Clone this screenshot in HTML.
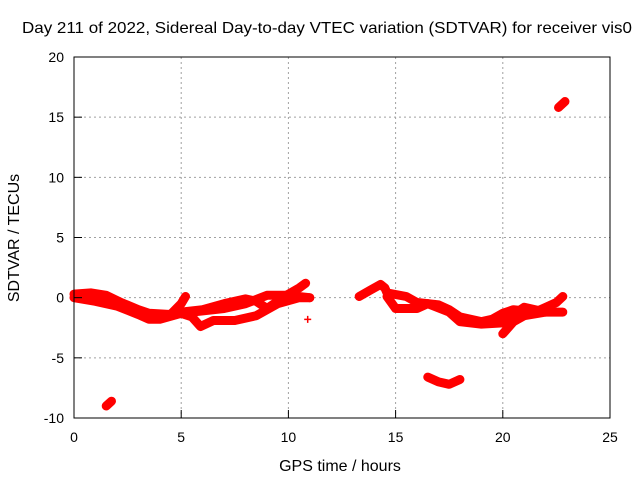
<!DOCTYPE html>
<html><head><meta charset="utf-8"><style>
body{margin:0;background:#fff;}
svg{display:block;font-family:"Liberation Sans",sans-serif;}
</style></head><body>
<svg id="chart" width="640" height="480">
<text x="327" y="33" text-anchor="middle" font-size="16" textLength="610" lengthAdjust="spacingAndGlyphs">Day 211 of 2022, Sidereal Day-to-day VTEC variation (SDTVAR) for receiver vis0</text>
<g id="grid"></g>
<g id="series"></g>
<rect x="74" y="57" width="536" height="361" fill="none" stroke="#000" stroke-width="1"/>
<g id="axes"></g>
<text x="340" y="471" text-anchor="middle" font-size="16">GPS time / hours</text>
<text transform="translate(19,238) rotate(-90)" text-anchor="middle" font-size="16">SDTVAR / TECUs</text>
</svg>
<script>
const xTicks=[0,5,10,15,20,25];
const yTicks=[-10,-5,0,5,10,15,20];
const traceA=[[0,0.3],[0.8,0.4],[1.5,0.2],[2.2,-0.4],[3,-1.0],[3.5,-1.3],[4.5,-1.4],[5.0,-0.5],[5.2,0.1]];
const traceB=[[0,0],[1,-0.3],[2,-0.7],[3,-1.4],[3.5,-1.8],[4,-1.8],[5,-1.3],[5.5,-1.6],[5.9,-2.4],[6.5,-1.9],[7.5,-1.9],[8.5,-1.5],[9.5,-0.5],[10.5,0],[11,0]];
const traceC=[[5,-1.2],[6,-1.0],[7,-0.5],[8,-0.1],[8.5,-0.3],[9,-0.9],[9.5,-0.3],[10,0.3],[10.5,0.8],[10.8,1.2]];
const traceD=[[5,-1.3],[7,-0.9],[8,-0.5],[9,0.2],[10,0.2],[11,0.0]];
const traceE=[[13.3,0.1],[13.8,0.6],[14.3,1.1],[14.5,0.8],[14.6,0.4],[15.5,0.1],[16,-0.4],[17,-0.6],[17.5,-1],[18,-1.6],[18.5,-1.8],[19,-2],[19.5,-1.8],[20,-1.3],[20.5,-1.0],[21.5,-1.2],[22,-0.8],[22.5,-0.4],[22.8,0.1]];
const traceF=[[14.6,0.1],[15,-0.9],[16,-0.9],[16.5,-0.5],[17.5,-1.2],[18,-2],[19,-2.2],[20,-2.1],[20.4,-1.5],[21,-0.8],[22,-1.2],[22.8,-1.2]];
const traceG=[[20,-3.0],[20.5,-2],[21,-1.5],[22,-1.2]];
const traceH=[[16.5,-6.6],[17,-7.0],[17.5,-7.2],[18,-6.8]];
const traceI=[[22.6,15.8],[22.9,16.3]];
const traceJ=[[1.5,-9.0],[1.75,-8.6]];
const singles=[[10.9,-1.8]];
const traces=[traceA,traceB,traceC,traceD,traceE,traceF,traceG,traceH,traceI,traceJ];

const X=h=>74+h*(536/25);
const Y=v=>418-(v+10)*(361/30);
const NS='http://www.w3.org/2000/svg';
const grid=document.getElementById('grid'),axes=document.getElementById('axes'),ser=document.getElementById('series');
function mk(tag,attrs,parent){const e=document.createElementNS(NS,tag);for(const k in attrs)e.setAttribute(k,attrs[k]);parent.appendChild(e);return e;}
xTicks.forEach(t=>{
  if(t>0&&t<25){const g=mk('line',{x1:X(t),x2:X(t),y1:57,y2:418,stroke:'#a0a0a0','stroke-dasharray':'2,3'},grid);
  
  }
  const tk=mk('line',{x1:X(t),x2:X(t),y1:418,y2:410,stroke:'#000'},axes);
  
  
  const l=mk('text',{x:X(t),y:442,'text-anchor':'middle','font-size':14},axes);
  l.textContent=t;
  
  
});
yTicks.forEach(t=>{
  if(t>-10&&t<20){const g=mk('line',{x1:74,x2:610,y1:Y(t),y2:Y(t),stroke:'#a0a0a0','stroke-dasharray':'2,3'},grid);
  
  }
  const tk=mk('line',{x1:74,x2:82,y1:Y(t),y2:Y(t),stroke:'#000'},axes);
  
  
  const l=mk('text',{x:64,y:Y(t)+5,'text-anchor':'end','font-size':14},axes);
  l.textContent=t;
  
  
});
traces.forEach(tr=>{
  const d=tr.map((p,i)=>(i?'L':'M')+X(p[0]).toFixed(1)+' '+Y(p[1]).toFixed(1)).join(' ');
  const p=mk('path',{d:d,fill:'none',stroke:'#ff0000','stroke-width':9,'stroke-linejoin':'round','stroke-linecap':'round'},ser);
  
  
});
singles.forEach(s=>{
  const x=X(s[0]),y=Y(s[1]);
  const p=mk('path',{d:`M${x-3.5} ${y}H${x+3.5}M${x} ${y-3.5}V${y+3.5}`,stroke:'#ff0000','stroke-width':1.5},ser);
  
  
});
</script>
</body></html>
